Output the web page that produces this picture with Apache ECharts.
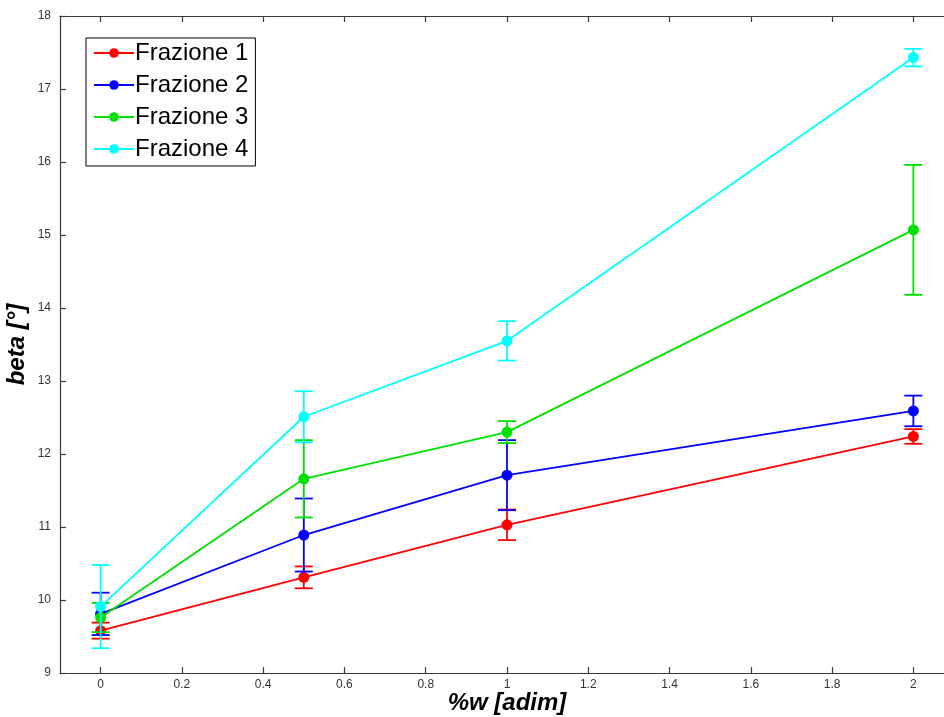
<!DOCTYPE html>
<html>
<head>
<meta charset="utf-8">
<script src="https://cdn.jsdelivr.net/npm/echarts@6/dist/echarts.min.js"></script>
<style>
  html, body { margin: 0; padding: 0; background: #fff; }
  #chart { width: 944px; height: 717px; }
</style>
</head>
<body>
<div id="chart"></div>
<script>
// Concentrazione in peso (asse x)
const xValues = [0, 0.5, 1, 2];
const xTicks = [0, 0.2, 0.4, 0.6, 0.8, 1, 1.2, 1.4, 1.6, 1.8, 2];

// Angolo beta medio per frazione e relativo errore
const seriesNames = ['Frazione 1', 'Frazione 2', 'Frazione 3', 'Frazione 4'];
const fraz1 = [9.58, 10.31, 11.03, 12.24];
const fraz2 = [9.81, 10.89, 11.71, 12.59];
const fraz3 = [9.76, 11.66, 12.30, 15.07];
const fraz4 = [9.91, 12.51, 13.55, 17.43];
const err1 = [0.11, 0.15, 0.21, 0.10];
const err2 = [0.29, 0.50, 0.48, 0.21];
const err3 = [0.20, 0.53, 0.15, 0.89];
const err4 = [0.57, 0.35, 0.27, 0.12];

const colors = ['#ff0000', '#0000ff', '#00e000', '#00ffff'];
const means = [fraz1, fraz2, fraz3, fraz4];
const errs = [err1, err2, err3, err4];

const FONT = '"Liberation Sans", Arial, sans-serif';

function errorBarRenderer(color) {
  return function (params, api) {
    const x = api.value(0);
    const top = api.coord([x, api.value(2)]);
    const bot = api.coord([x, api.value(1)]);
    const w = 9;
    const style = { stroke: color, lineWidth: 1.8 };
    return {
      type: 'group',
      children: [
        { type: 'line', shape: { x1: top[0], y1: top[1], x2: bot[0], y2: bot[1] }, style: style },
        { type: 'line', shape: { x1: top[0] - w, y1: top[1], x2: top[0] + w, y2: top[1] }, style: style },
        { type: 'line', shape: { x1: bot[0] - w, y1: bot[1], x2: bot[0] + w, y2: bot[1] }, style: style }
      ]
    };
  };
}

const series = [];
seriesNames.forEach(function (name, i) {
  series.push({
    name: name + ' (errore)',
    type: 'custom',
    renderItem: errorBarRenderer(colors[i]),
    encode: { x: 0, y: [1, 2] },
    data: xValues.map(function (x, k) {
      return [x, means[i][k] - errs[i][k], means[i][k] + errs[i][k]];
    }),
    silent: true,
    z: 2 + i * 2
  });
  series.push({
    name: name,
    type: 'line',
    data: xValues.map(function (x, k) { return [x, means[i][k]]; }),
    symbol: 'circle',
    symbolSize: 11,
    lineStyle: { color: colors[i], width: 1.8 },
    itemStyle: { color: colors[i] },
    emphasis: { disabled: true },
    z: 3 + i * 2
  });
});

function fmt(v) { return String(Math.round(v * 10) / 10); }

const axisLineStyle = { color: '#3a3a3a', width: 1.2 };
const tickStyle = { color: '#3a3a3a', width: 1.2 };

const option = {
  animation: false,
  backgroundColor: '#ffffff',
  grid: { left: 60, top: 16, right: -10, bottom: 44, containLabel: false, outerBoundsMode: 'none' },
  legend: {
    data: seriesNames,
    orient: 'vertical',
    left: 86,
    top: 38,
    padding: [3, 7, 5, 7],
    itemWidth: 40,
    itemHeight: 12,
    itemGap: 8,
    borderColor: '#000',
    borderWidth: 1,
    backgroundColor: '#fff',
    textStyle: { fontFamily: FONT, fontSize: 24, lineHeight: 24, color: '#000', padding: [0, 0, 0, -4] },
    selectedMode: false
  },
  xAxis: [
    {
      type: 'value', min: -0.1, max: 2.1, position: 'bottom',
      name: '%w [adim]', nameLocation: 'middle', nameGap: 18, nameMoveOverlap: false,
      nameTextStyle: { fontFamily: FONT, fontSize: 24, fontWeight: 'bold', fontStyle: 'italic', color: '#000' },
      axisLine: { onZero: false, lineStyle: axisLineStyle },
      axisTick: { inside: true, length: 6, customValues: xTicks, lineStyle: tickStyle },
      axisLabel: { customValues: xTicks, formatter: fmt, fontFamily: FONT, fontSize: 12, color: '#333', margin: 6 },
      splitLine: { show: false }
    },
    {
      type: 'value', min: -0.1, max: 2.1, position: 'top',
      axisLine: { onZero: false, lineStyle: axisLineStyle },
      axisTick: { inside: true, length: 6, customValues: xTicks, lineStyle: tickStyle },
      axisLabel: { show: false },
      splitLine: { show: false }
    }
  ],
  yAxis: [
    {
      type: 'value', min: 9, max: 18, interval: 1, position: 'left',
      name: 'beta [°]', nameLocation: 'middle', nameGap: 31, nameRotate: 90, nameMoveOverlap: false,
      nameTextStyle: { fontFamily: FONT, fontSize: 24, fontWeight: 'bold', fontStyle: 'italic', color: '#000' },
      axisLine: { show: true, onZero: false, lineStyle: axisLineStyle },
      axisTick: { show: true, inside: true, length: 6, lineStyle: tickStyle },
      axisLabel: { fontFamily: FONT, fontSize: 12, color: '#333', margin: 9 },
      splitLine: { show: false }
    },
    {
      type: 'value', min: 9, max: 18, interval: 1, position: 'right',
      axisLine: { show: true, onZero: false, lineStyle: axisLineStyle },
      axisTick: { show: true, inside: true, length: 6, lineStyle: tickStyle },
      axisLabel: { show: false },
      splitLine: { show: false }
    }
  ],
  series: series
};

const chart = echarts.init(document.getElementById('chart'), null, { renderer: 'canvas' });
chart.setOption(option);
</script>
</body>
</html>
